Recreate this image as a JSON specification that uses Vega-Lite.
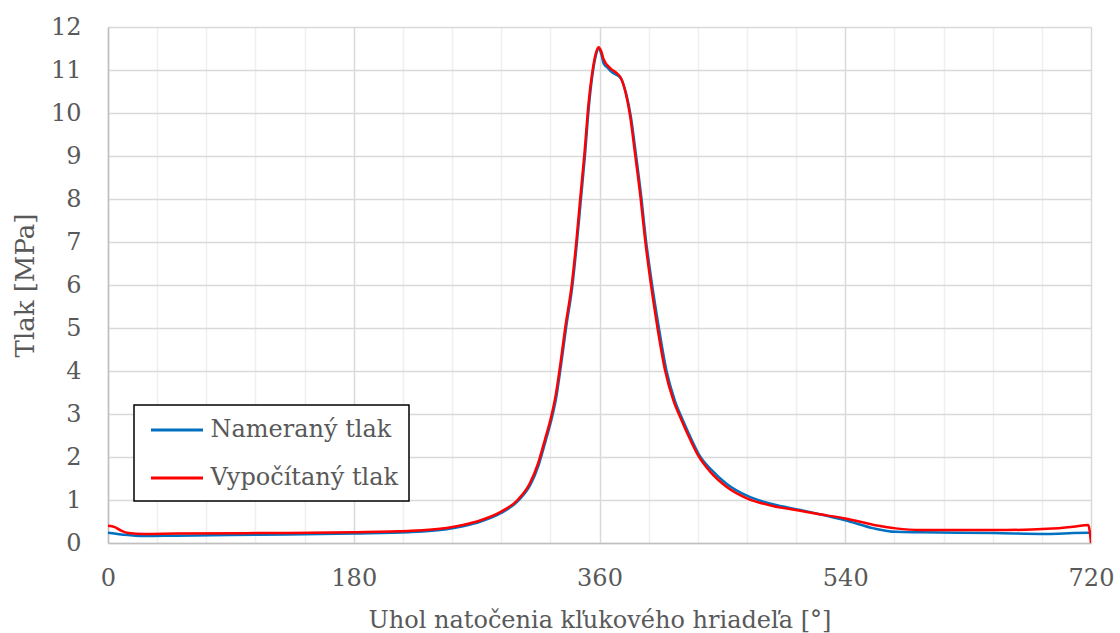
{
  "$schema": "https://vega.github.io/schema/vega-lite/v6.json",
  "autosize": {"type": "none"},
  "padding": {"left": 108, "top": 27, "right": 29, "bottom": 90},
  "width": 983,
  "height": 516,
  "background": "white",
  "config": {
    "view": {"stroke": null},
    "font": "DejaVu Serif",
    "axis": {
      "labelFont": "DejaVu Serif",
      "titleFont": "DejaVu Serif",
      "labelFontSize": 24,
      "titleFontSize": 24,
      "labelColor": "#595959",
      "titleColor": "#595959",
      "titleFontWeight": "normal",
      "ticks": false,
      "domainColor": "#bfbfbf",
      "domainWidth": 1.5,
      "gridWidth": 1.5
    },
    "legend": {
      "labelFont": "DejaVu Serif",
      "labelFontSize": 24,
      "labelColor": "#595959"
    }
  },
  "data": {
    "values": [
      {"s": "Nameraný tlak", "deg": 0, "p": 0.24},
      {"s": "Nameraný tlak", "deg": 10, "p": 0.20},
      {"s": "Nameraný tlak", "deg": 26, "p": 0.16},
      {"s": "Nameraný tlak", "deg": 50, "p": 0.17},
      {"s": "Nameraný tlak", "deg": 109, "p": 0.19},
      {"s": "Nameraný tlak", "deg": 180, "p": 0.22},
      {"s": "Nameraný tlak", "deg": 220, "p": 0.25},
      {"s": "Nameraný tlak", "deg": 248, "p": 0.32},
      {"s": "Nameraný tlak", "deg": 260, "p": 0.39},
      {"s": "Nameraný tlak", "deg": 273, "p": 0.50},
      {"s": "Nameraný tlak", "deg": 288, "p": 0.70},
      {"s": "Nameraný tlak", "deg": 300, "p": 0.97},
      {"s": "Nameraný tlak", "deg": 309.5, "p": 1.36},
      {"s": "Nameraný tlak", "deg": 315.5, "p": 1.82},
      {"s": "Nameraný tlak", "deg": 320.5, "p": 2.37},
      {"s": "Nameraný tlak", "deg": 324.5, "p": 2.83},
      {"s": "Nameraný tlak", "deg": 328.5, "p": 3.42},
      {"s": "Nameraný tlak", "deg": 332, "p": 4.18},
      {"s": "Nameraný tlak", "deg": 335.5, "p": 5.0},
      {"s": "Nameraný tlak", "deg": 340.2, "p": 6.0},
      {"s": "Nameraný tlak", "deg": 343.4, "p": 6.97},
      {"s": "Nameraný tlak", "deg": 346.4, "p": 8.0},
      {"s": "Nameraný tlak", "deg": 349.3, "p": 9.0},
      {"s": "Nameraný tlak", "deg": 352.3, "p": 10.18},
      {"s": "Nameraný tlak", "deg": 354.8, "p": 10.88},
      {"s": "Nameraný tlak", "deg": 357.2, "p": 11.32},
      {"s": "Nameraný tlak", "deg": 359.5, "p": 11.5},
      {"s": "Nameraný tlak", "deg": 361.5, "p": 11.35},
      {"s": "Nameraný tlak", "deg": 363, "p": 11.15},
      {"s": "Nameraný tlak", "deg": 366, "p": 11.05},
      {"s": "Nameraný tlak", "deg": 369, "p": 10.95},
      {"s": "Nameraný tlak", "deg": 373, "p": 10.88},
      {"s": "Nameraný tlak", "deg": 376, "p": 10.79},
      {"s": "Nameraný tlak", "deg": 379.5, "p": 10.45},
      {"s": "Nameraný tlak", "deg": 383, "p": 9.91},
      {"s": "Nameraný tlak", "deg": 386.6, "p": 9.06},
      {"s": "Nameraný tlak", "deg": 390.6, "p": 8.05},
      {"s": "Nameraný tlak", "deg": 394, "p": 7.05},
      {"s": "Nameraný tlak", "deg": 398, "p": 6.12},
      {"s": "Nameraný tlak", "deg": 403, "p": 5.1},
      {"s": "Nameraný tlak", "deg": 409, "p": 4.02},
      {"s": "Nameraný tlak", "deg": 415, "p": 3.33},
      {"s": "Nameraný tlak", "deg": 421, "p": 2.86},
      {"s": "Nameraný tlak", "deg": 427.5, "p": 2.40},
      {"s": "Nameraný tlak", "deg": 433, "p": 2.05},
      {"s": "Nameraný tlak", "deg": 442, "p": 1.70},
      {"s": "Nameraný tlak", "deg": 453, "p": 1.38},
      {"s": "Nameraný tlak", "deg": 468, "p": 1.10},
      {"s": "Nameraný tlak", "deg": 487, "p": 0.90},
      {"s": "Nameraný tlak", "deg": 507, "p": 0.77},
      {"s": "Nameraný tlak", "deg": 517, "p": 0.70},
      {"s": "Nameraný tlak", "deg": 540, "p": 0.53},
      {"s": "Nameraný tlak", "deg": 561, "p": 0.34},
      {"s": "Nameraný tlak", "deg": 577, "p": 0.26},
      {"s": "Nameraný tlak", "deg": 595, "p": 0.25},
      {"s": "Nameraný tlak", "deg": 649, "p": 0.23},
      {"s": "Nameraný tlak", "deg": 688, "p": 0.21},
      {"s": "Nameraný tlak", "deg": 707, "p": 0.23},
      {"s": "Nameraný tlak", "deg": 720, "p": 0.24},
      {"s": "Vypočítaný tlak", "deg": 0, "p": 0.40},
      {"s": "Vypočítaný tlak", "deg": 5, "p": 0.37},
      {"s": "Vypočítaný tlak", "deg": 10, "p": 0.28},
      {"s": "Vypočítaný tlak", "deg": 15, "p": 0.23},
      {"s": "Vypočítaný tlak", "deg": 26, "p": 0.21},
      {"s": "Vypočítaný tlak", "deg": 50, "p": 0.22},
      {"s": "Vypočítaný tlak", "deg": 109, "p": 0.23},
      {"s": "Vypočítaný tlak", "deg": 180, "p": 0.25},
      {"s": "Vypočítaný tlak", "deg": 220, "p": 0.28},
      {"s": "Vypočítaný tlak", "deg": 248, "p": 0.35},
      {"s": "Vypočítaný tlak", "deg": 260, "p": 0.42},
      {"s": "Vypočítaný tlak", "deg": 273, "p": 0.53},
      {"s": "Vypočítaný tlak", "deg": 288, "p": 0.73},
      {"s": "Vypočítaný tlak", "deg": 300, "p": 1.0},
      {"s": "Vypočítaný tlak", "deg": 309, "p": 1.39},
      {"s": "Vypočítaný tlak", "deg": 315, "p": 1.85},
      {"s": "Vypočítaný tlak", "deg": 320, "p": 2.40},
      {"s": "Vypočítaný tlak", "deg": 324, "p": 2.86},
      {"s": "Vypočítaný tlak", "deg": 328, "p": 3.45},
      {"s": "Vypočítaný tlak", "deg": 331.5, "p": 4.2},
      {"s": "Vypočítaný tlak", "deg": 335, "p": 5.03},
      {"s": "Vypočítaný tlak", "deg": 339.8, "p": 6.04},
      {"s": "Vypočítaný tlak", "deg": 343, "p": 7.0},
      {"s": "Vypočítaný tlak", "deg": 346, "p": 8.05},
      {"s": "Vypočítaný tlak", "deg": 349, "p": 9.06},
      {"s": "Vypočítaný tlak", "deg": 352, "p": 10.23},
      {"s": "Vypočítaný tlak", "deg": 354.6, "p": 10.92},
      {"s": "Vypočítaný tlak", "deg": 357, "p": 11.35},
      {"s": "Vypočítaný tlak", "deg": 359.3, "p": 11.53},
      {"s": "Vypočítaný tlak", "deg": 361.3, "p": 11.43},
      {"s": "Vypočítaný tlak", "deg": 363, "p": 11.25},
      {"s": "Vypočítaný tlak", "deg": 368, "p": 11.04},
      {"s": "Vypočítaný tlak", "deg": 372.8, "p": 10.92},
      {"s": "Vypočítaný tlak", "deg": 375.7, "p": 10.81},
      {"s": "Vypočítaný tlak", "deg": 378.9, "p": 10.50},
      {"s": "Vypočítaný tlak", "deg": 382.5, "p": 9.91},
      {"s": "Vypočítaný tlak", "deg": 386, "p": 9.06},
      {"s": "Vypočítaný tlak", "deg": 390, "p": 8.05},
      {"s": "Vypočítaný tlak", "deg": 393.4, "p": 7.05},
      {"s": "Vypočítaný tlak", "deg": 397.2, "p": 6.12},
      {"s": "Vypočítaný tlak", "deg": 402, "p": 5.1},
      {"s": "Vypočítaný tlak", "deg": 408, "p": 4.02},
      {"s": "Vypočítaný tlak", "deg": 414, "p": 3.33},
      {"s": "Vypočítaný tlak", "deg": 420, "p": 2.86},
      {"s": "Vypočítaný tlak", "deg": 426.5, "p": 2.40},
      {"s": "Vypočítaný tlak", "deg": 432, "p": 2.05},
      {"s": "Vypočítaný tlak", "deg": 441, "p": 1.66},
      {"s": "Vypočítaný tlak", "deg": 453, "p": 1.31},
      {"s": "Vypočítaný tlak", "deg": 468, "p": 1.04},
      {"s": "Vypočítaný tlak", "deg": 487, "p": 0.86},
      {"s": "Vypočítaný tlak", "deg": 507, "p": 0.75},
      {"s": "Vypočítaný tlak", "deg": 517, "p": 0.69},
      {"s": "Vypočítaný tlak", "deg": 540, "p": 0.57},
      {"s": "Vypočítaný tlak", "deg": 561, "p": 0.42},
      {"s": "Vypočítaný tlak", "deg": 577, "p": 0.34},
      {"s": "Vypočítaný tlak", "deg": 595, "p": 0.30},
      {"s": "Vypočítaný tlak", "deg": 649, "p": 0.30},
      {"s": "Vypočítaný tlak", "deg": 688, "p": 0.33},
      {"s": "Vypočítaný tlak", "deg": 707, "p": 0.38},
      {"s": "Vypočítaný tlak", "deg": 718, "p": 0.42},
      {"s": "Vypočítaný tlak", "deg": 720, "p": 0.0}
    ]
  },
  "mark": {"type": "line", "strokeWidth": 2.5, "interpolate": "monotone", "clip": true},
  "encoding": {
    "x": {
      "field": "deg",
      "type": "quantitative",
      "scale": {"domain": [0, 720], "nice": false, "zero": false},
      "axis": {
        "title": "Uhol natočenia kľukového hriadeľa [°]",
        "values": [0, 36, 72, 108, 144, 180, 216, 252, 288, 324, 360, 396, 432, 468, 504, 540, 576, 612, 648, 684, 720],
        "labelExpr": "datum.value % 180 === 0 ? datum.label : ''",
        "format": "d",
        "labelPadding": 23,
        "labelFlush": false,
        "labelOverlap": false,
        "gridColor": {"condition": {"test": "datum.value % 180 === 0", "value": "#d9d9d9"}, "value": "#efefef"},
        "titleY": 84,
        "titleBaseline": "alphabetic"
      }
    },
    "y": {
      "field": "p",
      "type": "quantitative",
      "scale": {"domain": [0, 12], "nice": false},
      "axis": {
        "title": "Tlak [MPa]",
        "titleFontSize": 26,
        "values": [0, 1, 2, 3, 4, 5, 6, 7, 8, 9, 10, 11, 12],
        "labelPadding": 27,
        "labelFlush": false,
        "labelOverlap": false,
        "gridColor": "#d9d9d9",
        "titleX": -75,
        "titleY": 258,
        "titleBaseline": "alphabetic",
        "titleAngle": -90,
        "titleAlign": "center"
      }
    },
    "color": {
      "field": "s",
      "type": "nominal",
      "scale": {"domain": ["Nameraný tlak", "Vypočítaný tlak"], "range": ["#0070C0", "#FF0000"]},
      "legend": {
        "title": null,
        "orient": "none",
        "legendX": 26,
        "legendY": 378,
        "symbolType": "M-2,0H2",
        "symbolSize": 676,
        "symbolStrokeWidth": 3,
        "symbolOffset": 18,
        "padding": 10.5,
        "rowPadding": 21,
        "labelOffset": 19,
        "labelLimit": 500,
        "strokeColor": "black",
        "fillColor": "white",
        "encode": {"legend": {"update": {"strokeWidth": {"value": 1.5}}}}
      }
    }
  }
}
